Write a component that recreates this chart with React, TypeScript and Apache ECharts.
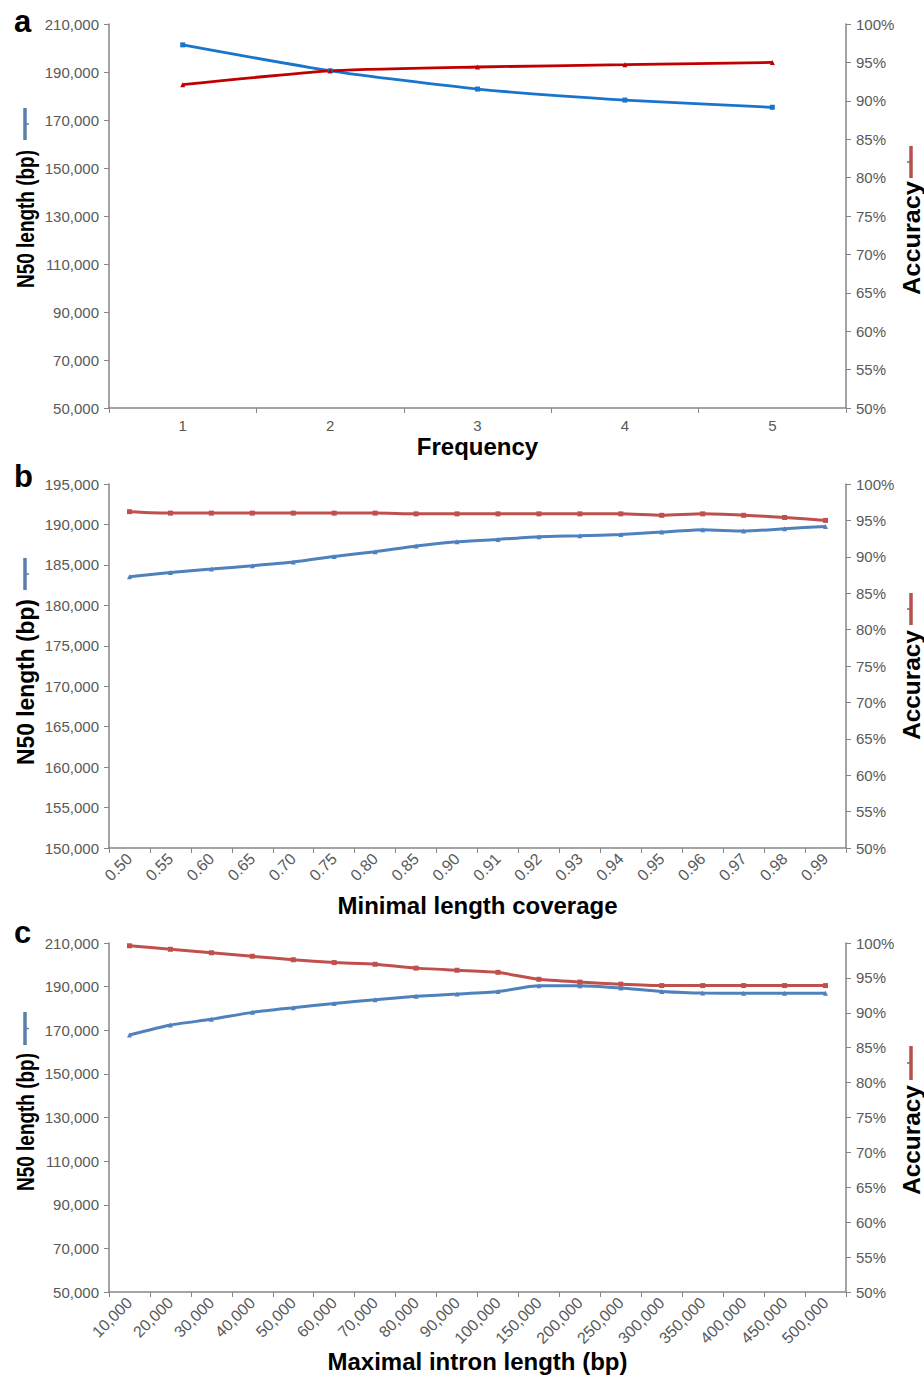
import { useEffect, useRef } from "react";
import * as echarts from "echarts";

// ---------- data ----------
const freqCats = ["1", "2", "3", "4", "5"];
const freqN50 = [201300, 190500, 182900, 178300, 175300];
const freqAcc = [92.1, 93.9, 94.4, 94.7, 95.0];

const covCats = ["0.50", "0.55", "0.60", "0.65", "0.70", "0.75", "0.80", "0.85", "0.90", "0.91", "0.92", "0.93", "0.94", "0.95", "0.96", "0.97", "0.98", "0.99"];
const covN50 = [183530, 184070, 184480, 184890, 185350, 186050, 186620, 187330, 187860, 188150, 188480, 188600, 188770, 189060, 189340, 189180, 189470, 189760];
const covAcc = [96.2, 96.0, 96.0, 96.0, 96.0, 96.0, 96.0, 95.9, 95.9, 95.9, 95.9, 95.9, 95.9, 95.7, 95.9, 95.7, 95.4, 95.0];

const intronCats = ["10,000", "20,000", "30,000", "40,000", "50,000", "60,000", "70,000", "80,000", "90,000", "100,000", "150,000", "200,000", "250,000", "300,000", "350,000", "400,000", "450,000", "500,000"];
const intronN50 = [167800, 172400, 175000, 178200, 180300, 182300, 184000, 185550, 186600, 187800, 190400, 190400, 189350, 187800, 187050, 187000, 187000, 187000];
const intronAcc = [99.6, 99.1, 98.6, 98.1, 97.6, 97.2, 96.95, 96.4, 96.1, 95.8, 94.8, 94.4, 94.1, 93.9, 93.9, 93.9, 93.9, 93.9];

const leftTitle = "N50 length (bp)";
const rightTitle = "Accuracy";
const xTitles = ["Frequency", "Minimal length coverage", "Maximal intron length (bp)"];
const letters = ["a", "b", "c"];

// ---------- style / layout ----------
const FONT = "'Liberation Sans', Arial, Helvetica, sans-serif";
const LABEL_GRAY = "#595959";
const AXIS_GRAY = "#868686";

const panels = [
  {
    cats: freqCats, n50: freqN50, acc: freqAcc,
    grid: { left: 109, top: 24, width: 737, height: 384 },
    leftMin: 50000, leftMax: 210000, leftInt: 20000,
    rotate: 0, labelMargin: 10, nameGap: 26, labelSize: 15,
    blue: "#1874CD", red: "#C00000", blueSym: "rect", redSym: "triangle", lw: 2.8,
    letterY: 21,
    leftTitle: { y: 219, size: 24, scale: 0.79 }, rightTitle: { y: 238, size: 23, scale: 1.1 },
    leftKey: { y0: 108, y1: 140 }, rightKey: { y0: 146, y1: 178 },
    keyBlue: "#5A7FA8", keyRed: "#B5504E",
  },
  {
    cats: covCats, n50: covN50, acc: covAcc,
    grid: { left: 109, top: 484, width: 737, height: 364 },
    leftMin: 150000, leftMax: 195000, leftInt: 5000,
    rotate: 45, labelMargin: 8, nameGap: 45, labelSize: 16,
    blue: "#4F81BD", red: "#C0504D", blueSym: "triangle", redSym: "rect", lw: 3,
    letterY: 476,
    leftTitle: { y: 682, size: 24, scale: 0.95 }, rightTitle: { y: 685, size: 23, scale: 1.06 },
    leftKey: { y0: 558, y1: 590 }, rightKey: { y0: 593, y1: 625 },
    keyBlue: "#5A7FA8", keyRed: "#B5504E",
  },
  {
    cats: intronCats, n50: intronN50, acc: intronAcc,
    grid: { left: 109, top: 943, width: 737, height: 349 },
    leftMin: 50000, leftMax: 210000, leftInt: 20000,
    rotate: 45, labelMargin: 8, nameGap: 56, labelSize: 16,
    blue: "#4F81BD", red: "#C0504D", blueSym: "triangle", redSym: "rect", lw: 3,
    letterY: 932,
    leftTitle: { y: 1122, size: 24, scale: 0.79 }, rightTitle: { y: 1140, size: 23, scale: 1.06 },
    leftKey: { y0: 1012, y1: 1045 }, rightKey: { y0: 1046, y1: 1080 },
    keyBlue: "#5A7FA8", keyRed: "#B5504E",
  },
];

const thousands = (v: number) => String(v).replace(/\B(?=(\d{3})+(?!\d))/g, ",");

function buildOption() {
  const grid: any[] = [];
  const xAxis: any[] = [];
  const yAxis: any[] = [];
  const series: any[] = [];
  const graphic: any[] = [];

  panels.forEach((p, i) => {
    grid.push({ ...p.grid, containLabel: false });
    xAxis.push({
      type: "category",
      gridIndex: i,
      data: p.cats,
      boundaryGap: true,
      name: xTitles[i],
      nameLocation: "middle",
      nameGap: p.nameGap,
      nameTextStyle: { fontFamily: FONT, fontWeight: "bold", fontSize: 24, color: "#000" },
      axisLine: { show: true, lineStyle: { color: AXIS_GRAY, width: 1.5 } },
      axisTick: { show: true, alignWithLabel: false, length: 5, lineStyle: { color: AXIS_GRAY, width: 1 } },
      axisLabel: {
        interval: 0,
        rotate: p.rotate,
        margin: p.labelMargin,
        fontFamily: FONT,
        fontSize: p.labelSize,
        color: LABEL_GRAY,
      },
      splitLine: { show: false },
    });
    yAxis.push({
      type: "value",
      gridIndex: i,
      position: "left",
      min: p.leftMin,
      max: p.leftMax,
      interval: p.leftInt,
      axisLine: { show: true, lineStyle: { color: AXIS_GRAY, width: 1.5 } },
      axisTick: { show: true, length: 5, lineStyle: { color: AXIS_GRAY } },
      axisLabel: { margin: 10, fontFamily: FONT, fontSize: 15, color: LABEL_GRAY, formatter: (v: number) => thousands(v) },
      splitLine: { show: false },
    });
    yAxis.push({
      type: "value",
      gridIndex: i,
      position: "right",
      min: 50,
      max: 100,
      interval: 5,
      axisLine: { show: true, lineStyle: { color: AXIS_GRAY, width: 1.5 } },
      axisTick: { show: true, length: 5, lineStyle: { color: AXIS_GRAY } },
      axisLabel: { margin: 10, fontFamily: FONT, fontSize: 15, color: LABEL_GRAY, formatter: "{value}%" },
      splitLine: { show: false },
    });
    series.push({
      type: "line",
      name: leftTitle,
      xAxisIndex: i,
      yAxisIndex: i * 2,
      data: p.n50,
      smooth: 0.2,
      symbol: p.blueSym,
      symbolSize: 5,
      showSymbol: true,
      itemStyle: { color: p.blue },
      lineStyle: { color: p.blue, width: p.lw },
      silent: true,
    });
    series.push({
      type: "line",
      name: rightTitle,
      xAxisIndex: i,
      yAxisIndex: i * 2 + 1,
      data: p.acc,
      smooth: 0.2,
      symbol: p.redSym,
      symbolSize: 5,
      showSymbol: true,
      itemStyle: { color: p.red },
      lineStyle: { color: p.red, width: p.lw },
      silent: true,
    });

    // panel letter
    graphic.push({
      type: "text",
      x: 14,
      y: p.letterY,
      style: { text: letters[i], font: `bold 31px ${FONT}`, fill: "#000", textAlign: "left", textVerticalAlign: "middle", verticalAlign: "middle" },
    });
    // left title (rotated)
    graphic.push({
      type: "text",
      x: 26,
      y: p.leftTitle.y,
      rotation: Math.PI / 2,
      scaleX: p.leftTitle.scale,
      style: { text: leftTitle, font: `bold ${p.leftTitle.size}px ${FONT}`, fill: "#000", textAlign: "center", textVerticalAlign: "middle", verticalAlign: "middle" },
    });
    // right title (rotated)
    graphic.push({
      type: "text",
      x: 912,
      y: p.rightTitle.y,
      rotation: Math.PI / 2,
      scaleX: p.rightTitle.scale,
      style: { text: rightTitle, font: `bold ${p.rightTitle.size}px ${FONT}`, fill: "#000", textAlign: "center", textVerticalAlign: "middle", verticalAlign: "middle" },
    });
    // legend keys
    const lk = p.leftKey;
    graphic.push({ type: "line", shape: { x1: 25, y1: lk.y0, x2: 25, y2: lk.y1 }, style: { stroke: p.keyBlue, lineWidth: 3.5 } });
    graphic.push({ type: "line", shape: { x1: 25, y1: (lk.y0 + lk.y1) / 2, x2: 29, y2: (lk.y0 + lk.y1) / 2 }, style: { stroke: p.keyBlue, lineWidth: 1.5 } });
    const rk = p.rightKey;
    graphic.push({ type: "line", shape: { x1: 911, y1: rk.y0, x2: 911, y2: rk.y1 }, style: { stroke: p.keyRed, lineWidth: 3.5 } });
    graphic.push({ type: "line", shape: { x1: 907, y1: (rk.y0 + rk.y1) / 2, x2: 911, y2: (rk.y0 + rk.y1) / 2 }, style: { stroke: p.keyRed, lineWidth: 1.5 } });
  });

  return {
    animation: false,
    backgroundColor: "#ffffff",
    textStyle: { fontFamily: FONT },
    grid,
    xAxis,
    yAxis,
    series,
    graphic,
  };
}

export default function App() {
  const ref = useRef<HTMLDivElement>(null);
  useEffect(() => {
    if (!ref.current) return;
    const chart = echarts.init(ref.current, undefined, { renderer: "svg" });
    chart.setOption(buildOption() as any);
    return () => chart.dispose();
  }, []);
  return (
    <div
      ref={ref}
      style={{ position: "absolute", left: 0, top: 0, width: 924, height: 1379, background: "#fff" }}
    />
  );
}
